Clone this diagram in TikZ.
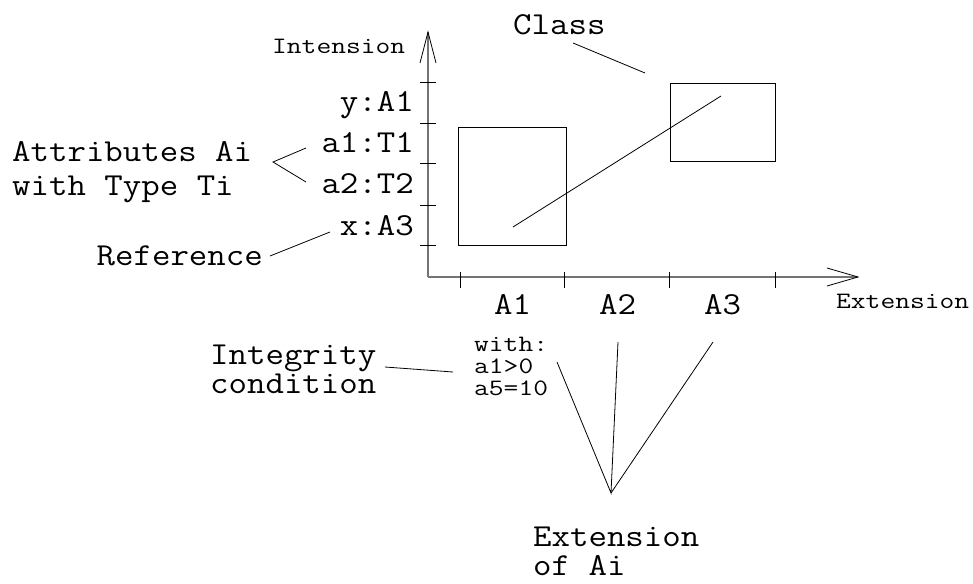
\documentclass[tikz,border=0pt]{standalone}
\usepackage{fontspec}
% slab-serif typewriter faces, widened a little
\newfontfamily\bigtt[FakeStretch=1.12]{Latin Modern Mono}
\newfontfamily\smalltt[FakeStretch=1.22]{Latin Modern Mono}
\begin{document}
\begin{tikzpicture}[x=1pt,y=-1pt,
  big/.style={font=\bigtt\fontsize{32}{32}\selectfont, inner sep=0pt},
  small/.style={font=\smalltt\fontsize{23.5}{23.5}\selectfont, inner sep=0pt},
  leader/.style={line width=0.8pt},
  axisline/.style={line width=1.5pt, draw=black!55},
  barb/.style={line width=0.8pt},
  tick/.style={line width=1pt},
  classbox/.style={line width=0.8pt}]
\useasboundingbox (0,0) rectangle (973,583);

% axes with open arrow heads
\coordinate (O) at (428,277);
\coordinate (ytop) at (428,32);
\coordinate (xend) at (858,277);
\draw[axisline] (O) -- (ytop);
\draw[barb] (420,63) -- (ytop) -- (436,63);
\draw[axisline] (O) -- (xend);
\draw[barb] (827,268) -- (xend) -- (827,286);

% ticks on the intension axis
\foreach \y in {83,123,163,205,245}
  \draw[tick] (420,\y) -- (436,\y);
% ticks on the extension axis
\foreach \x in {460,564,669,775}
  \draw[tick] (\x,272) -- (\x,288);

% axis titles
\node[small, anchor=base west] (intension) at (272,54) {Intension};
\node[small, anchor=base west] (extension) at (836,308) {Extension};

% attribute labels on the intension axis
\node[big, anchor=base east] (yA1) at (414,112) {y:A1};
\node[big, anchor=base east] (a1T1) at (414,152) {a1:T1};
\node[big, anchor=base east] (a2T2) at (414,193) {a2:T2};
\node[big, anchor=base east] (xA3) at (414,235) {x:A3};

% extension labels
\node[big, anchor=base] (A1) at (512.5,314) {A1};
\node[big, anchor=base] (A2) at (617.5,314) {A2};
\node[big, anchor=base] (A3) at (722.5,314) {A3};

% the two classes and the reference between them
\node[classbox, draw, minimum width=108pt, minimum height=118pt, anchor=north west, inner sep=0pt] (c1) at (458,127) {};
\node[classbox, draw, minimum width=105pt, minimum height=78pt, anchor=north west, inner sep=0pt] (c2) at (670,83) {};
\coordinate (r1) at (513,227);
\coordinate (r2) at (721,96);
\draw[leader] (r1) -- (r2);

% Class
\node[big, anchor=base west] (class) at (513,35) {Class};
\coordinate (cl1) at (573,43);
\coordinate (cl2) at (645,73);
\draw[leader] (cl1) -- (cl2);

% Attributes
\node[big, anchor=base west] (attr1) at (12,161) {Attributes Ai};
\node[big, anchor=base west] (attr2) at (12,195) {with Type Ti};
\coordinate (av) at (273,162);
\coordinate (au) at (306,148);
\coordinate (al) at (306,182);
\draw[leader] (au) -- (av) -- (al);

% Reference
\node[big, anchor=base east] (ref) at (263,265) {Reference};
\coordinate (rf1) at (270,256);
\coordinate (rf2) at (330,232);
\draw[leader] (rf1) -- (rf2);

% Integrity condition
\node[big, anchor=base west] (int1) at (210,364) {Integrity};
\node[big, anchor=base west] (int2) at (210,393) {condition};
\node[small, anchor=base west] (w1) at (474,351) {with:};
\node[small, anchor=base west] (w2) at (474,373) {a1>0};
\node[small, anchor=base west] (w3) at (474,395) {a5=10};
\coordinate (ic1) at (385,367);
\coordinate (ic2) at (453,372);
\draw[leader] (ic1) -- (ic2);

% Extension of Ai
\node[big, anchor=base west] (ext1) at (533,546) {Extension};
\node[big, anchor=base west] (ext2) at (533,575) {of Ai};
\coordinate (ex) at (611,493);
\coordinate (e1) at (557,362);
\coordinate (e2) at (618,342);
\coordinate (e3) at (713,342);
\draw[leader] (e1) -- (ex) -- (e2);
\draw[leader] (ex) -- (e3);
\end{tikzpicture}
\end{document}
